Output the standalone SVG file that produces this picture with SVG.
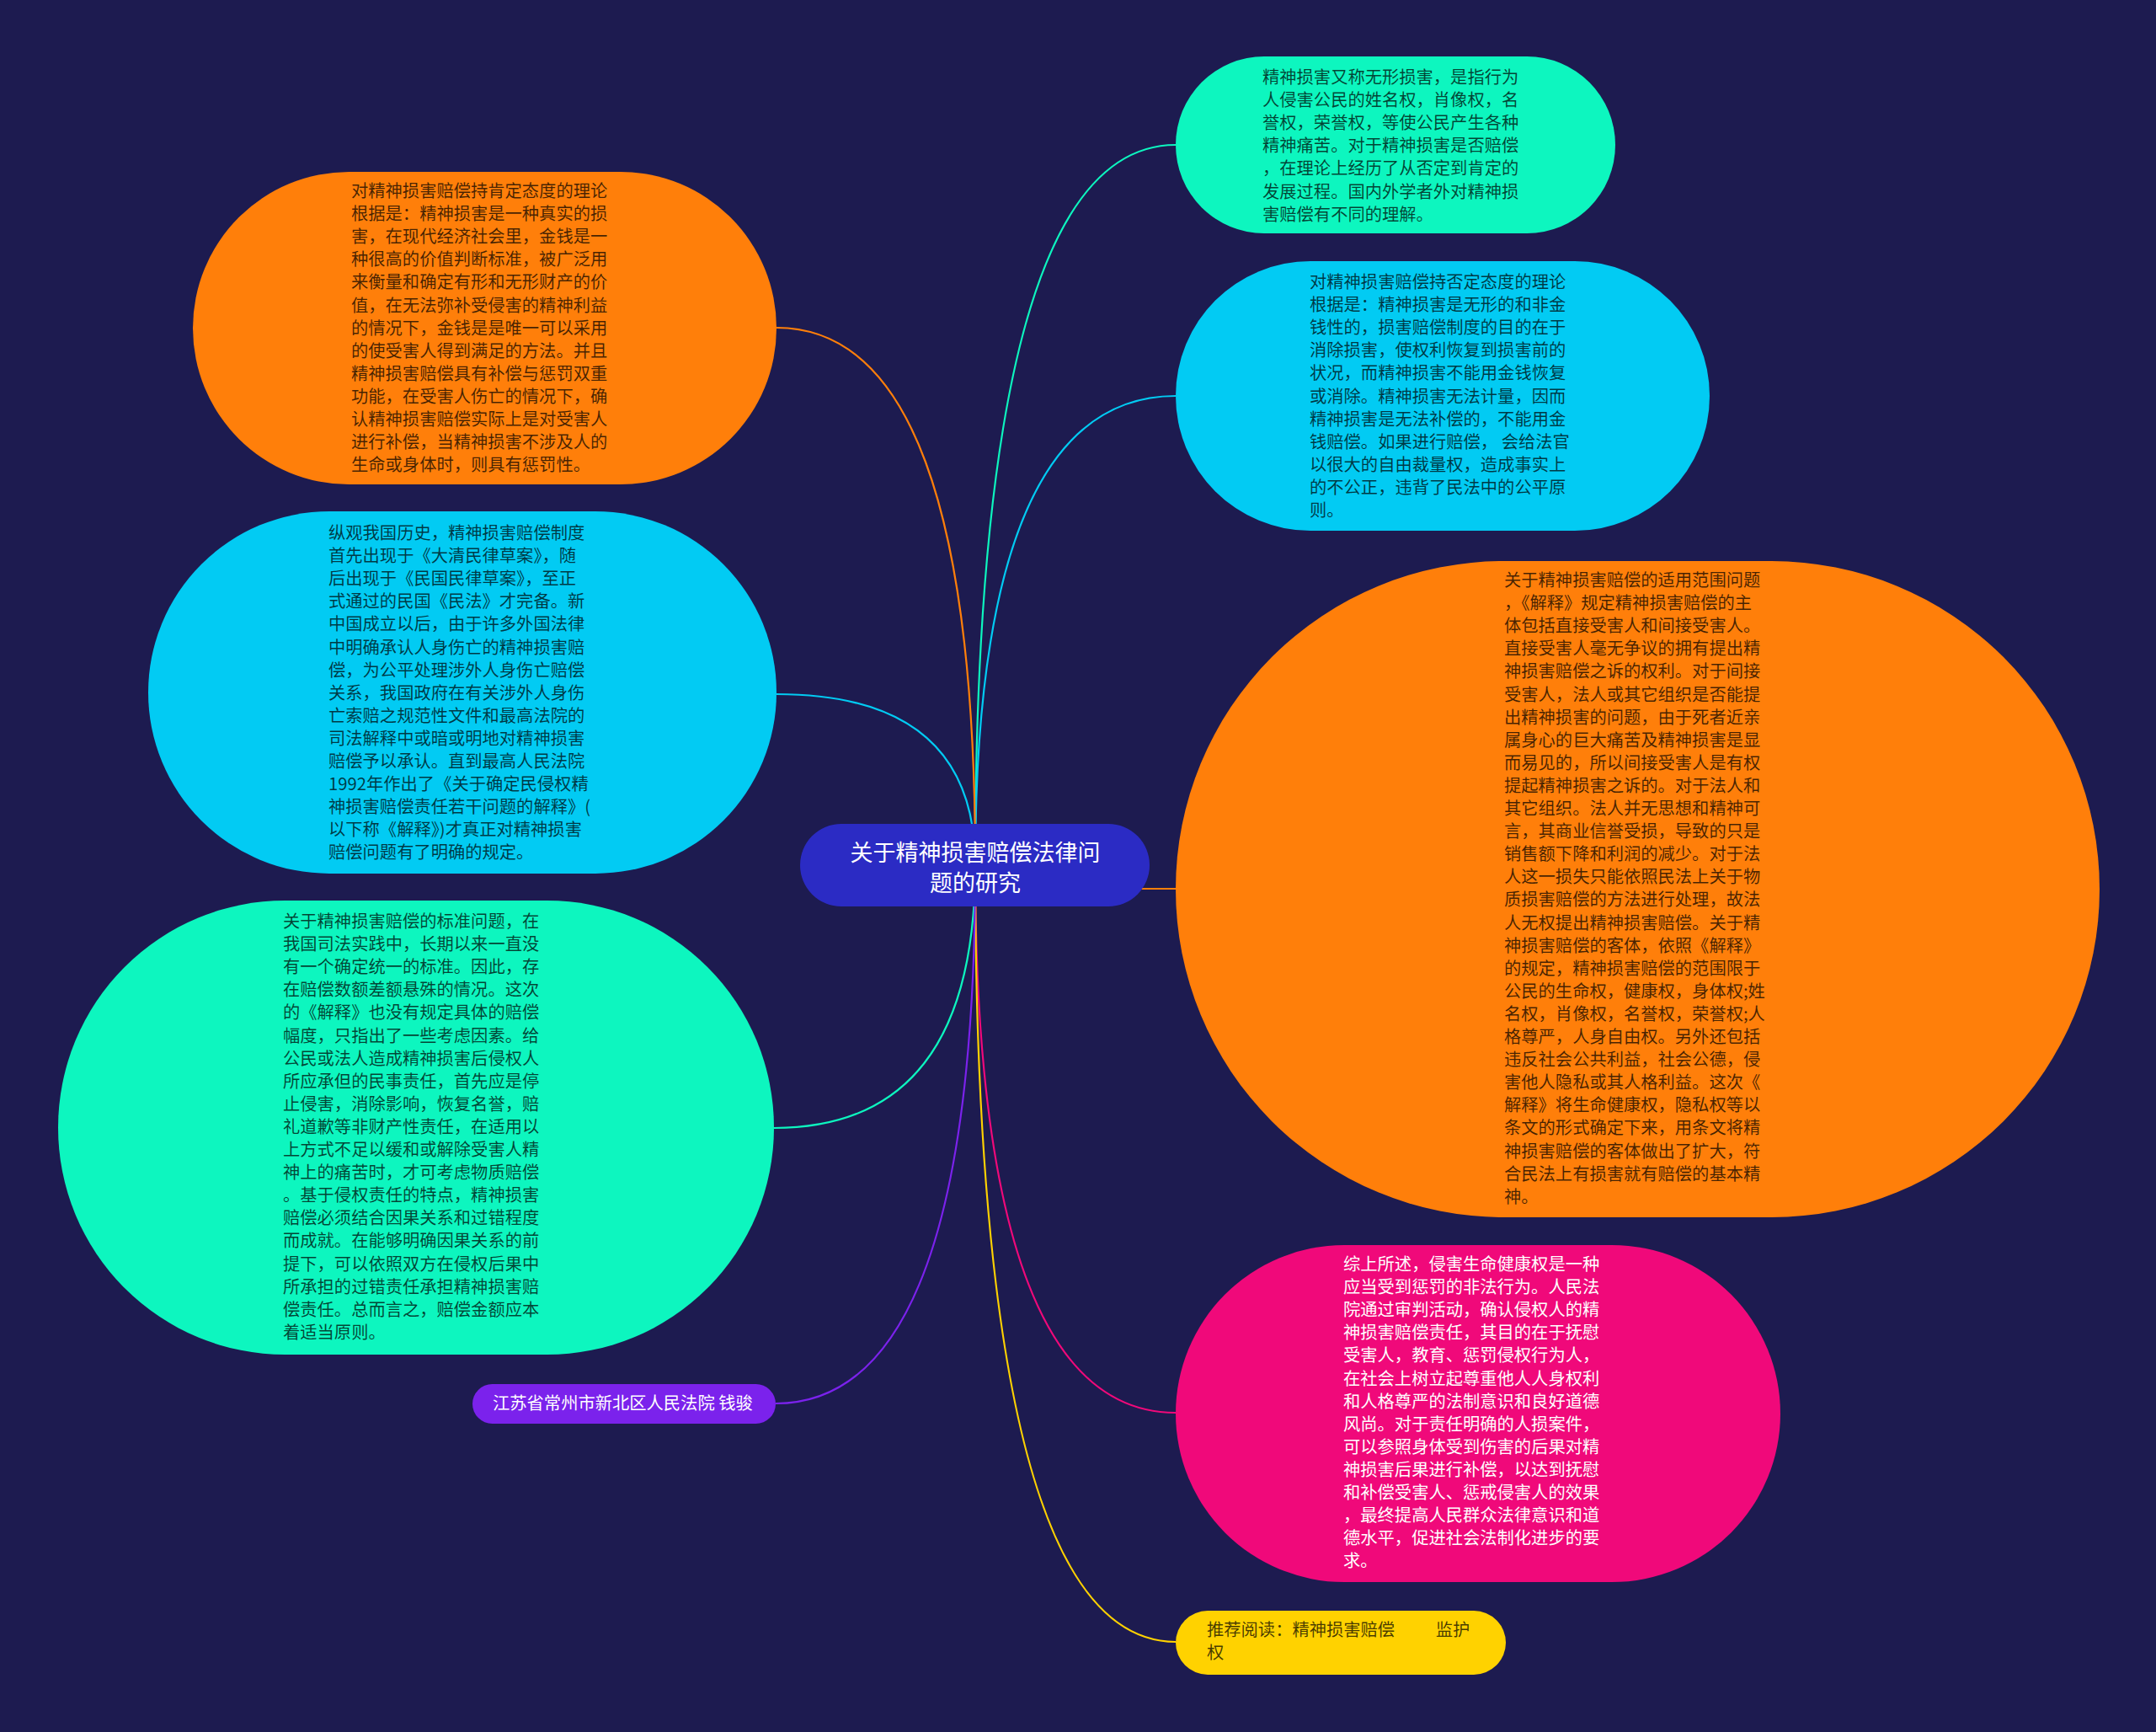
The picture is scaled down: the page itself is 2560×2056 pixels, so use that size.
<svg xmlns="http://www.w3.org/2000/svg" width="2560" height="2056" viewBox="0 0 2560 2056">
<style>
.t{font-family:"Noto Sans CJK SC","Noto Sans",sans-serif;font-size:20.3px;fill:#000;fill-opacity:0.72}
.w{font-family:"Noto Sans CJK SC","Noto Sans",sans-serif;font-size:20.3px;fill:#ffffff}
.c{font-family:"Noto Sans CJK SC","Noto Sans",sans-serif;font-size:27px;fill:#ffffff;text-anchor:middle}
.ln{fill:none;stroke-width:2.2}
</style>
<rect x="0" y="0" width="2560" height="2056" fill="#1d1b50"/>
<g id="connectors">
<path class="ln" stroke="#0df6bf" d="M1158 1027 Q1158 172 1396 172"/>
<path class="ln" stroke="#02cbf3" d="M1158 1027 Q1158 470 1396 470"/>
<path class="ln" stroke="#ff7f0a" d="M1300 1055 L1396 1055"/>
<path class="ln" stroke="#f0097a" d="M1158 1027 Q1158 1677 1396 1677"/>
<path class="ln" stroke="#ffd200" d="M1158 1027 Q1158 1949 1396 1949"/>
<path class="ln" stroke="#ff7f0a" d="M1158 1027 Q1158 389 922 389"/>
<path class="ln" stroke="#02cbf3" d="M1158 1027 Q1158 824 922 824"/>
<path class="ln" stroke="#0df6bf" d="M1158 1027 Q1158 1339 919 1339"/>
<path class="ln" stroke="#7b22ec" d="M1158 1027 Q1158 1666 921 1666"/>
</g>
<g id="center">
<rect x="950" y="978" width="415" height="98" rx="49" fill="#2b2bc4"/>
<text class="c"><tspan x="1158" y="1022">关于精神损害赔偿法律问</tspan><tspan x="1158" y="1058">题的研究</tspan></text>
</g>
<g id="node-r1">
<rect x="1396" y="67" width="522" height="210" rx="105" fill="#0df6bf"/>
<text class="t"><tspan x="1499" y="99">精神损害又称无形损害，是指行为</tspan><tspan x="1499" dy="27.1">人侵害公民的姓名权，肖像权，名</tspan><tspan x="1499" dy="27.1">誉权，荣誉权，等使公民产生各种</tspan><tspan x="1499" dy="27.1">精神痛苦。对于精神损害是否赔偿</tspan><tspan x="1499" dy="27.1">，在理论上经历了从否定到肯定的</tspan><tspan x="1499" dy="27.1">发展过程。国内外学者外对精神损</tspan><tspan x="1499" dy="27.1">害赔偿有不同的理解。</tspan></text>
</g>
<g id="node-r2">
<rect x="1396" y="310" width="634" height="320" rx="160" fill="#02cbf3"/>
<text class="t"><tspan x="1555" y="342">对精神损害赔偿持否定态度的理论</tspan><tspan x="1555" dy="27.1">根据是：精神损害是无形的和非金</tspan><tspan x="1555" dy="27.1">钱性的，损害赔偿制度的目的在于</tspan><tspan x="1555" dy="27.1">消除损害，使权利恢复到损害前的</tspan><tspan x="1555" dy="27.1">状况，而精神损害不能用金钱恢复</tspan><tspan x="1555" dy="27.1">或消除。精神损害无法计量，因而</tspan><tspan x="1555" dy="27.1">精神损害是无法补偿的，不能用金</tspan><tspan x="1555" dy="27.1">钱赔偿。如果进行赔偿， 会给法官</tspan><tspan x="1555" dy="27.1">以很大的自由裁量权，造成事实上</tspan><tspan x="1555" dy="27.1">的不公正，违背了民法中的公平原</tspan><tspan x="1555" dy="27.1">则。</tspan></text>
</g>
<g id="node-r3">
<rect x="1396" y="666" width="1097" height="779" rx="389.5" fill="#ff7f0a"/>
<text class="t"><tspan x="1786" y="696">关于精神损害赔偿的适用范围问题</tspan><tspan x="1786" dy="27.1">，《解释》规定精神损害赔偿的主</tspan><tspan x="1786" dy="27.1">体包括直接受害人和间接受害人。</tspan><tspan x="1786" dy="27.1">直接受害人毫无争议的拥有提出精</tspan><tspan x="1786" dy="27.1">神损害赔偿之诉的权利。对于间接</tspan><tspan x="1786" dy="27.1">受害人，法人或其它组织是否能提</tspan><tspan x="1786" dy="27.1">出精神损害的问题，由于死者近亲</tspan><tspan x="1786" dy="27.1">属身心的巨大痛苦及精神损害是显</tspan><tspan x="1786" dy="27.1">而易见的，所以间接受害人是有权</tspan><tspan x="1786" dy="27.1">提起精神损害之诉的。对于法人和</tspan><tspan x="1786" dy="27.1">其它组织。法人并无思想和精神可</tspan><tspan x="1786" dy="27.1">言，其商业信誉受损，导致的只是</tspan><tspan x="1786" dy="27.1">销售额下降和利润的减少。对于法</tspan><tspan x="1786" dy="27.1">人这一损失只能依照民法上关于物</tspan><tspan x="1786" dy="27.1">质损害赔偿的方法进行处理，故法</tspan><tspan x="1786" dy="27.1">人无权提出精神损害赔偿。关于精</tspan><tspan x="1786" dy="27.1">神损害赔偿的客体，依照《解释》</tspan><tspan x="1786" dy="27.1">的规定，精神损害赔偿的范围限于</tspan><tspan x="1786" dy="27.1">公民的生命权，健康权，身体权;姓</tspan><tspan x="1786" dy="27.1">名权，肖像权，名誉权，荣誉权;人</tspan><tspan x="1786" dy="27.1">格尊严，人身自由权。另外还包括</tspan><tspan x="1786" dy="27.1">违反社会公共利益，社会公德，侵</tspan><tspan x="1786" dy="27.1">害他人隐私或其人格利益。这次《</tspan><tspan x="1786" dy="27.1">解释》将生命健康权，隐私权等以</tspan><tspan x="1786" dy="27.1">条文的形式确定下来，用条文将精</tspan><tspan x="1786" dy="27.1">神损害赔偿的客体做出了扩大，符</tspan><tspan x="1786" dy="27.1">合民法上有损害就有赔偿的基本精</tspan><tspan x="1786" dy="27.1">神。</tspan></text>
</g>
<g id="node-r4">
<rect x="1396" y="1478" width="718" height="400" rx="200" fill="#f0097a"/>
<text class="w"><tspan x="1595" y="1508">综上所述，侵害生命健康权是一种</tspan><tspan x="1595" dy="27.1">应当受到惩罚的非法行为。人民法</tspan><tspan x="1595" dy="27.1">院通过审判活动，确认侵权人的精</tspan><tspan x="1595" dy="27.1">神损害赔偿责任，其目的在于抚慰</tspan><tspan x="1595" dy="27.1">受害人，教育、惩罚侵权行为人，</tspan><tspan x="1595" dy="27.1">在社会上树立起尊重他人人身权利</tspan><tspan x="1595" dy="27.1">和人格尊严的法制意识和良好道德</tspan><tspan x="1595" dy="27.1">风尚。对于责任明确的人损案件，</tspan><tspan x="1595" dy="27.1">可以参照身体受到伤害的后果对精</tspan><tspan x="1595" dy="27.1">神损害后果进行补偿，以达到抚慰</tspan><tspan x="1595" dy="27.1">和补偿受害人、惩戒侵害人的效果</tspan><tspan x="1595" dy="27.1">，最终提高人民群众法律意识和道</tspan><tspan x="1595" dy="27.1">德水平，促进社会法制化进步的要</tspan><tspan x="1595" dy="27.1">求。</tspan></text>
</g>
<g id="node-r5">
<rect x="1396" y="1912" width="392" height="76" rx="38" fill="#ffd200"/>
<text class="t"><tspan x="1433" y="1942">推荐阅读：精神损害赔偿</tspan><tspan dx="8">　　监护</tspan><tspan x="1433" y="1969">权</tspan></text>
</g>
<g id="node-l1">
<rect x="229" y="204" width="693" height="371" rx="185.5" fill="#ff7f0a"/>
<text class="t"><tspan x="417" y="234">对精神损害赔偿持肯定态度的理论</tspan><tspan x="417" dy="27.1">根据是：精神损害是一种真实的损</tspan><tspan x="417" dy="27.1">害，在现代经济社会里，金钱是一</tspan><tspan x="417" dy="27.1">种很高的价值判断标准，被广泛用</tspan><tspan x="417" dy="27.1">来衡量和确定有形和无形财产的价</tspan><tspan x="417" dy="27.1">值，在无法弥补受侵害的精神利益</tspan><tspan x="417" dy="27.1">的情况下，金钱是是唯一可以采用</tspan><tspan x="417" dy="27.1">的使受害人得到满足的方法。并且</tspan><tspan x="417" dy="27.1">精神损害赔偿具有补偿与惩罚双重</tspan><tspan x="417" dy="27.1">功能，在受害人伤亡的情况下，确</tspan><tspan x="417" dy="27.1">认精神损害赔偿实际上是对受害人</tspan><tspan x="417" dy="27.1">进行补偿，当精神损害不涉及人的</tspan><tspan x="417" dy="27.1">生命或身体时，则具有惩罚性。</tspan></text>
</g>
<g id="node-l2">
<rect x="176" y="607" width="746" height="430" rx="215" fill="#02cbf3"/>
<text class="t"><tspan x="390" y="640">纵观我国历史，精神损害赔偿制度</tspan><tspan x="390" dy="27.1">首先出现于《大清民律草案》，随</tspan><tspan x="390" dy="27.1">后出现于《民国民律草案》，至正</tspan><tspan x="390" dy="27.1">式通过的民国《民法》才完备。新</tspan><tspan x="390" dy="27.1">中国成立以后，由于许多外国法律</tspan><tspan x="390" dy="27.1">中明确承认人身伤亡的精神损害赔</tspan><tspan x="390" dy="27.1">偿，为公平处理涉外人身伤亡赔偿</tspan><tspan x="390" dy="27.1">关系，我国政府在有关涉外人身伤</tspan><tspan x="390" dy="27.1">亡索赔之规范性文件和最高法院的</tspan><tspan x="390" dy="27.1">司法解释中或暗或明地对精神损害</tspan><tspan x="390" dy="27.1">赔偿予以承认。直到最高人民法院</tspan><tspan x="390" dy="27.1">1992年作出了《关于确定民侵权精</tspan><tspan x="390" dy="27.1">神损害赔偿责任若干问题的解释》(</tspan><tspan x="390" dy="27.1">以下称《解释》)才真正对精神损害</tspan><tspan x="390" dy="27.1">赔偿问题有了明确的规定。</tspan></text>
</g>
<g id="node-l3">
<rect x="69" y="1069" width="850" height="539" rx="269.5" fill="#0df6bf"/>
<text class="t"><tspan x="336" y="1101">关于精神损害赔偿的标准问题，在</tspan><tspan x="336" dy="27.1">我国司法实践中，长期以来一直没</tspan><tspan x="336" dy="27.1">有一个确定统一的标准。因此，存</tspan><tspan x="336" dy="27.1">在赔偿数额差额悬殊的情况。这次</tspan><tspan x="336" dy="27.1">的《解释》也没有规定具体的赔偿</tspan><tspan x="336" dy="27.1">幅度，只指出了一些考虑因素。给</tspan><tspan x="336" dy="27.1">公民或法人造成精神损害后侵权人</tspan><tspan x="336" dy="27.1">所应承但的民事责任，首先应是停</tspan><tspan x="336" dy="27.1">止侵害，消除影响，恢复名誉，赔</tspan><tspan x="336" dy="27.1">礼道歉等非财产性责任，在适用以</tspan><tspan x="336" dy="27.1">上方式不足以缓和或解除受害人精</tspan><tspan x="336" dy="27.1">神上的痛苦时，才可考虑物质赔偿</tspan><tspan x="336" dy="27.1">。基于侵权责任的特点，精神损害</tspan><tspan x="336" dy="27.1">赔偿必须结合因果关系和过错程度</tspan><tspan x="336" dy="27.1">而成就。在能够明确因果关系的前</tspan><tspan x="336" dy="27.1">提下，可以依照双方在侵权后果中</tspan><tspan x="336" dy="27.1">所承担的过错责任承担精神损害赔</tspan><tspan x="336" dy="27.1">偿责任。总而言之，赔偿金额应本</tspan><tspan x="336" dy="27.1">着适当原则。</tspan></text>
</g>
<g id="node-l4">
<rect x="561" y="1643" width="360" height="47" rx="23.5" fill="#7b22ec"/>
<text class="w" x="585" y="1673">江苏省常州市新北区人民法院 钱骏</text>
</g>
</svg>
